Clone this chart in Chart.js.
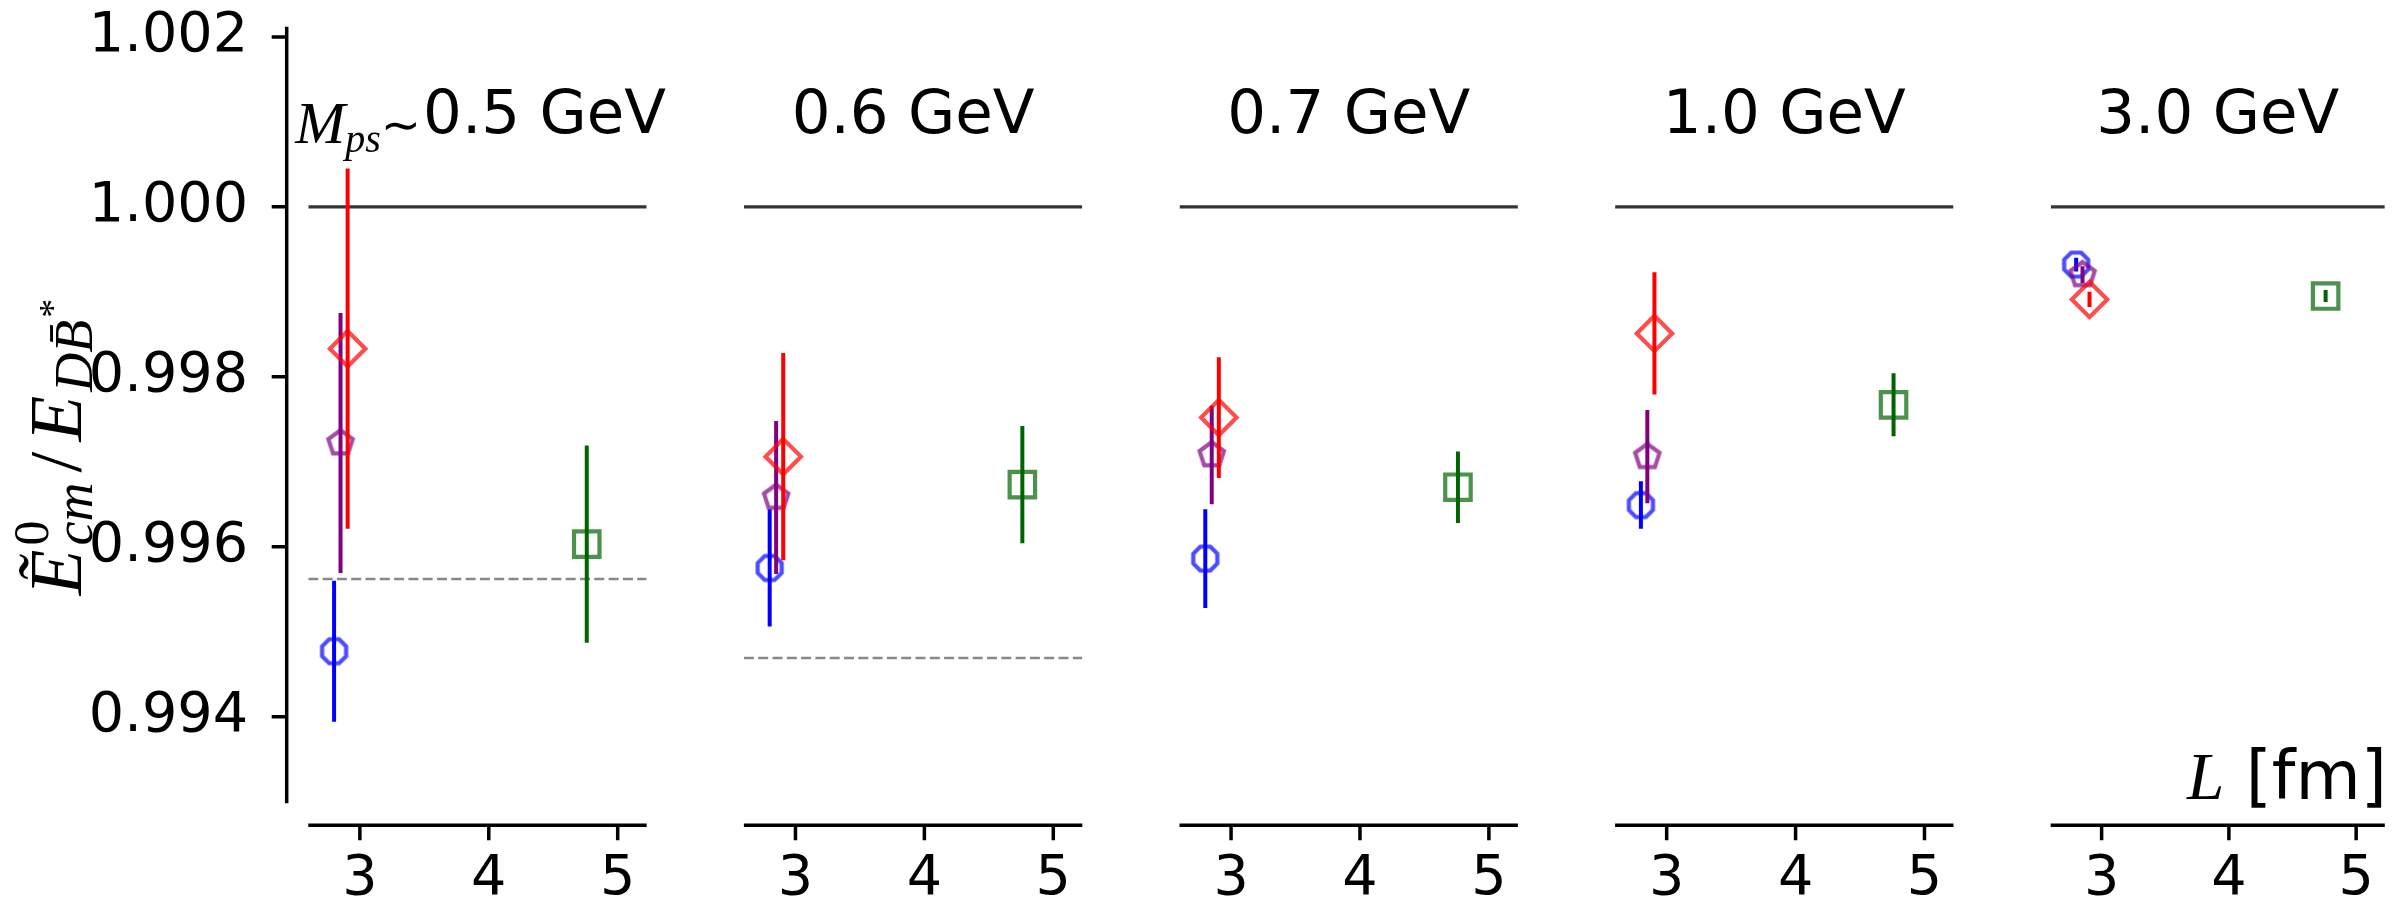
<!DOCTYPE html>
<html>
<head>
<meta charset="utf-8">
<script src="https://cdn.jsdelivr.net/npm/chart.js@4.4.0/dist/chart.umd.min.js"></script>
<style>
  html, body { margin: 0; padding: 0; background: #fff; }
  #wrap { position: relative; width: 2407px; height: 905px; overflow: hidden; }
  #wrap canvas { position: absolute; left: 0; top: 0; }
</style>
</head>
<body>
<div id="wrap"></div>
<script>
// pion masses, one panel each
const massLabels = ['0.5 GeV', '0.6 GeV', '0.7 GeV', '1.0 GeV', '3.0 GeV'];
const xTicks = [3, 4, 5];
const yTicks = [0.994, 0.996, 0.998, 1.000, 1.002];
const xRange = [2.6, 5.225];
const yRange = [0.99298, 1.00212];

// spatial box sizes L [fm] of the four ensembles
const lBlue = 2.80, lPurple = 2.85, lRed = 2.905, lGreen = 4.76;

// E_cm / E_threshold and errors, one entry per mass
const blueE = [0.99477, 0.99575, 0.99586, 0.99649, 0.99932];
const blueErr = [0.00083, 0.00069, 0.00058, 0.00028, 0.00008];
const purpleE = [0.99722, 0.99658, 0.99708, 0.99706, 0.99920];
const purpleErr = [0.00153, 0.00090, 0.00058, 0.00055, 0.00010];
const redE = [0.99833, 0.99706, 0.99752, 0.99851, 0.99891];
const redErr = [0.00212, 0.00122, 0.00071, 0.00072, 0.00009];
const greenE = [0.99603, 0.99673, 0.99670, 0.99767, 0.99895];
const greenErr = [0.00116, 0.00069, 0.00042, 0.00037, 0.00007];

// dashed reference level (only for the two lightest masses)
const threshold = [0.99562, 0.99469, null, null, null];
const unity = 1.0;

// page layout
const W = 2407, H = 905;
const plotTop = 26.7, plotBottom = 803.3;
const firstLeft = 308.3, panelWidth = 338.4, panelStep = 435.6;
const spineGap = 22, tickLen = 15;
const titleBase = 133;

const serifIt = px => `italic ${px}px "Liberation Serif"`;
const serif = px => `${px}px "Liberation Serif"`;
const sans = px => `${px}px "DejaVu Sans"`;

function polygonMarker(sides, r, color, lw, rot) {
  const size = Math.ceil(2 * r + lw + 4);
  const c = document.createElement('canvas');
  c.width = size; c.height = size;
  const g = c.getContext('2d');
  g.strokeStyle = color;
  g.lineWidth = lw;
  g.beginPath();
  for (let k = 0; k < sides; k++) {
    const a = rot + k * 2 * Math.PI / sides;
    const px = size / 2 + r * Math.sin(a), py = size / 2 - r * Math.cos(a);
    if (k) g.lineTo(px, py); else g.moveTo(px, py);
  }
  g.closePath();
  g.stroke();
  return c;
}

const octagon = polygonMarker(8, 13, 'rgba(0,0,255,0.7)', 4.2, Math.PI / 8);
const pentagon = polygonMarker(5, 12.8, 'rgba(128,0,128,0.7)', 4.2, 0);

function runsWidth(ctx, runs) {
  let w = 0;
  for (const r of runs) {
    ctx.font = r.font;
    if (!r.stack) w += ctx.measureText(r.text).width + (r.gap || 0);
  }
  return w;
}

function drawRuns(ctx, runs, x, y) {
  for (const r of runs) {
    ctx.font = r.font;
    ctx.fillText(r.text, x, y + (r.dy || 0));
    if (!r.stack) x += ctx.measureText(r.text).width + (r.gap || 0);
  }
}

const yLabelRuns = [
  { text: 'Ẽ', font: serifIt(75), gap: 4 },
  { text: '0', font: serif(50), dy: -33, stack: true },
  { text: 'cm', font: serifIt(54), dy: 11, gap: 10 },
  { text: '/', font: serif(75), gap: 10 },
  { text: 'E', font: serifIt(75), gap: 4 },
  { text: 'D', font: serifIt(54), dy: 11 },
  { text: 'B\u0304', font: serifIt(54), dy: 11, gap: 2 },
  { text: '*', font: serif(38), dy: -16 }
];

const firstTitleRuns = [
  { text: 'M', font: serifIt(60), dy: 10 },
  { text: 'ps', font: serifIt(40), dy: 19 },
  { text: '∼', font: sans(48), dy: 8, gap: 2 },
  { text: massLabels[0], font: sans(61) }
];

const xLabelRuns = [
  { text: 'L', font: serifIt(67) },
  { text: ' [fm]', font: sans(67) }
];

// offset spines, panel titles and axis labels
const panelDecor = {
  id: 'panelDecor',
  afterDraw(chart, args, opts) {
    const { ctx, chartArea: a } = chart;
    const xs = chart.scales.x, ys = chart.scales.y;
    ctx.save();
    ctx.strokeStyle = '#000';
    ctx.lineWidth = 3.5;
    ctx.beginPath();
    const sy = a.bottom + spineGap;
    ctx.moveTo(a.left, sy); ctx.lineTo(a.right, sy);
    xTicks.forEach(v => {
      const px = xs.getPixelForValue(v);
      ctx.moveTo(px, sy); ctx.lineTo(px, sy + tickLen);
    });
    if (opts.index === 0) {
      const sx = a.left - 21.6;
      ctx.moveTo(sx, a.top); ctx.lineTo(sx, a.bottom);
      yTicks.forEach(v => {
        const py = ys.getPixelForValue(v);
        ctx.moveTo(sx - tickLen, py); ctx.lineTo(sx, py);
      });
    }
    ctx.stroke();

    ctx.fillStyle = '#000';
    ctx.textBaseline = 'alphabetic';
    ctx.textAlign = 'left';
    if (opts.index === 0) {
      drawRuns(ctx, firstTitleRuns, a.left - 13, titleBase);
      // rotated y label
      ctx.save();
      ctx.translate(81, 447);
      ctx.rotate(-Math.PI / 2);
      drawRuns(ctx, yLabelRuns, -runsWidth(ctx, yLabelRuns) / 2, 0);
      ctx.restore();
    } else {
      ctx.font = sans(61);
      ctx.textAlign = 'center';
      ctx.fillText(massLabels[opts.index], (a.left + a.right) / 2, titleBase);
      ctx.textAlign = 'left';
    }
    if (opts.index === massLabels.length - 1) {
      drawRuns(ctx, xLabelRuns, a.right + 2 - runsWidth(ctx, xLabelRuns), 799);
    }
    ctx.restore();
  }
};

function errorBar(l, e, err, color, order) {
  return {
    data: [{ x: l, y: e - err }, { x: l, y: e + err }],
    showLine: true, borderColor: color, borderWidth: 4,
    pointRadius: 0, order
  };
}

function marker(l, e, style, color, radius, order) {
  return {
    data: [{ x: l, y: e }],
    pointStyle: style, pointRadius: radius, borderColor: color,
    backgroundColor: 'rgba(0,0,0,0)', pointBorderWidth: 4.2, borderWidth: 4.2, order
  };
}

// keep the plot box exactly where the layout puts it
function noScalePadding(s) {
  s.paddingTop = 0; s.paddingBottom = 0; s.paddingLeft = 0; s.paddingRight = 0;
}

const wrap = document.getElementById('wrap');

massLabels.forEach((label, i) => {
  const canvas = document.createElement('canvas');
  canvas.width = W; canvas.height = H;
  wrap.appendChild(canvas);
  const left = firstLeft + i * panelStep;

  const datasets = [
    {
      data: [{ x: xRange[0], y: unity }, { x: xRange[1], y: unity }],
      showLine: true, borderColor: '#333333', borderWidth: 3.3, pointRadius: 0, order: 10
    },
    errorBar(lBlue, blueE[i], blueErr[i], '#0000ff', 8),
    marker(lBlue, blueE[i], octagon, 'rgba(0,0,255,0.7)', 13, 7),
    errorBar(lPurple, purpleE[i], purpleErr[i], '#800080', 6),
    marker(lPurple, purpleE[i], pentagon, 'rgba(128,0,128,0.7)', 13, 5),
    errorBar(lRed, redE[i], redErr[i], '#ff0000', 4),
    marker(lRed, redE[i], 'rectRot', 'rgba(255,0,0,0.7)', 17.7, 3),
    errorBar(lGreen, greenE[i], greenErr[i], '#006400', 2),
    marker(lGreen, greenE[i], 'rect', 'rgba(0,100,0,0.7)', 18, 1)
  ];
  if (threshold[i] !== null) {
    datasets.push({
      data: [{ x: xRange[0], y: threshold[i] }, { x: xRange[1], y: threshold[i] }],
      showLine: true, borderColor: '#888888', borderWidth: 2.4, borderDash: [10, 4.3],
      pointRadius: 0, order: 9
    });
  }

  new Chart(canvas, {
    type: 'scatter',
    data: { datasets },
    options: {
      responsive: false,
      animation: false,
      devicePixelRatio: 1,
      events: [],
      layout: {
        padding: { left: i === 0 ? 0 : left, right: W - left - panelWidth, top: plotTop, bottom: 0 }
      },
      scales: {
        x: {
          type: 'linear',
          min: xRange[0], max: xRange[1],
          grid: { display: false, drawTicks: false },
          border: { display: false },
          afterBuildTicks: s => { s.ticks = xTicks.map(v => ({ value: v })); },
          afterFit: s => { s.height = H - plotBottom; noScalePadding(s); },
          ticks: {
            padding: 43.3, color: '#000', maxRotation: 0, autoSkip: false,
            font: { family: 'DejaVu Sans', size: 55.6 }
          }
        },
        y: {
          type: 'linear',
          display: i === 0,
          min: yRange[0], max: yRange[1],
          grid: { display: false, drawTicks: false },
          border: { display: false },
          afterBuildTicks: s => { s.ticks = yTicks.map(v => ({ value: v })); },
          afterFit: s => {
            s.width = i === 0 ? left : 0;
            noScalePadding(s);
          },
          ticks: {
            padding: 60.3, color: '#000', autoSkip: false,
            font: { family: 'DejaVu Sans', size: 55.6 },
            callback: v => v.toFixed(3)
          }
        }
      },
      plugins: {
        legend: { display: false },
        tooltip: { enabled: false },
        panelDecor: { index: i }
      }
    },
    plugins: [panelDecor]
  });
});
</script>
</body>
</html>
